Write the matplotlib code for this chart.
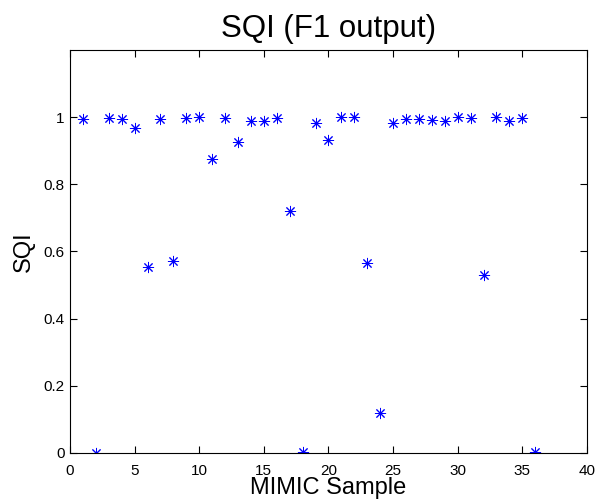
import matplotlib
matplotlib.use("Agg")
import matplotlib.pyplot as plt

samples = list(range(1, 37))
sqi = [0.995, 0.0, 0.998, 0.995, 0.968, 0.553, 0.995, 0.573, 0.997, 1.0,
       0.875, 0.997, 0.925, 0.99, 0.99, 0.997, 0.72, 0.002, 0.983, 0.933,
       1.0, 1.0, 0.567, 0.118, 0.983, 0.996, 0.996, 0.993, 0.99, 1.0,
       0.997, 0.53, 1.0, 0.99, 0.997, 0.003]
xticks = [0, 5, 10, 15, 20, 25, 30, 35, 40]
yticks = [0, 0.2, 0.4, 0.6, 0.8, 1]

plt.rcParams['font.family'] = ['Liberation Sans', 'DejaVu Sans']
fig = plt.figure(figsize=(6.02, 5.0), dpi=100)
ax = fig.add_axes([0.1163, 0.094, 0.8587, 0.806])
ax.plot(samples, sqi, linestyle='none', marker=(8, 2, 0), color='#0000ff',
        markersize=8, markeredgewidth=0.7)
ax.set_xlim(0, 40)
ax.set_ylim(0, 1.2)
ax.set_xticks(xticks)
ax.set_yticks(yticks)
ax.set_yticklabels(['0', '0.2', '0.4', '0.6', '0.8', '1'])
ax.tick_params(direction='in', top=True, right=True, labelsize=11, length=5, width=0.8)
ax.tick_params(axis='x', pad=8)
ax.tick_params(axis='y', pad=4)
for s in ax.spines.values():
    s.set_linewidth(0.8)
ax.set_title('SQI (F1 output)', fontsize=22.5, pad=9)
ax.set_xlabel('MIMIC Sample', fontsize=17, labelpad=-0.5)
ax.set_ylabel('SQI', fontsize=17, labelpad=6)
fig.savefig('out.png', dpi=100)
